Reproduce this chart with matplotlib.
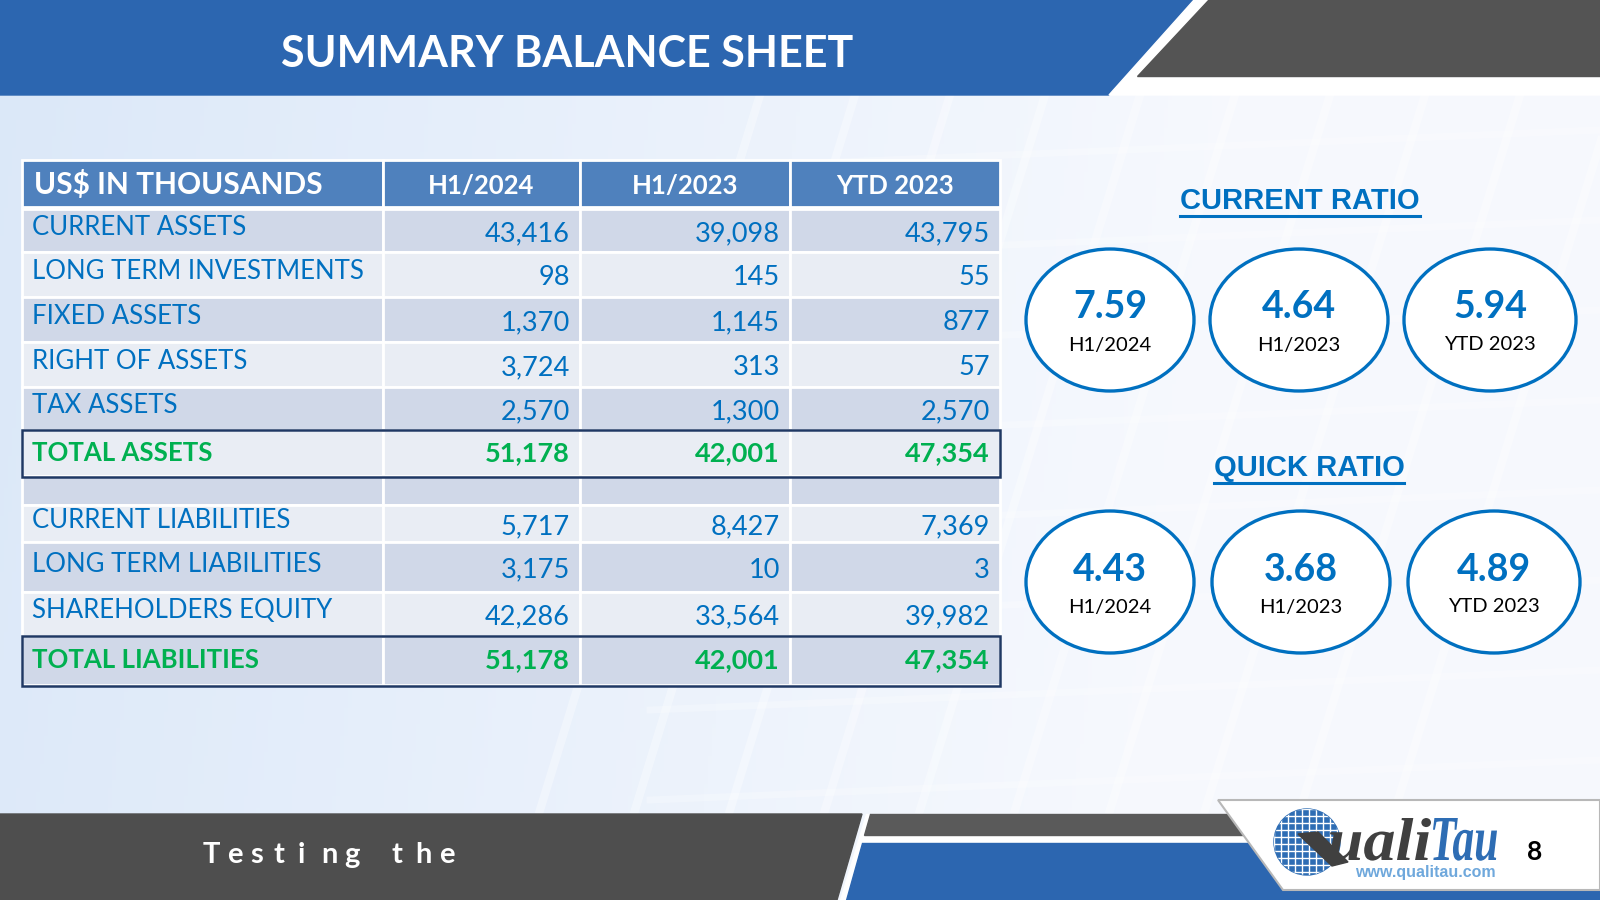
import matplotlib
matplotlib.use("Agg")
import matplotlib.pyplot as plt
from matplotlib.patches import Polygon, Rectangle, Ellipse, Circle, PathPatch
from matplotlib.textpath import TextPath
from matplotlib.font_manager import FontProperties
from matplotlib.transforms import Affine2D
import numpy as np

# ---- data ----
columns = ["H1/2024", "H1/2023", "YTD 2023"]
row_labels = ["CURRENT ASSETS", "LONG TERM INVESTMENTS", "FIXED ASSETS",
              "RIGHT OF ASSETS", "TAX ASSETS", "TOTAL ASSETS", "",
              "CURRENT LIABILITIES", "LONG TERM LIABILITIES",
              "SHAREHOLDERS EQUITY", "TOTAL LIABILITIES"]
h1_2024 = [43416, 98, 1370, 3724, 2570, 51178, None, 5717, 3175, 42286, 51178]
h1_2023 = [39098, 145, 1145, 313, 1300, 42001, None, 8427, 10, 33564, 42001]
ytd_2023 = [43795, 55, 877, 57, 2570, 47354, None, 7369, 3, 39982, 47354]
total_rows = ["TOTAL ASSETS", "TOTAL LIABILITIES"]

ratio_periods = ["H1/2024", "H1/2023", "YTD 2023"]
current_ratio = [7.59, 4.64, 5.94]
quick_ratio = [4.43, 3.68, 4.89]

# ---- styles ----
BLUE = "#2c66b0"
TXT_BLUE = "#0070c0"
GREEN = "#00b050"
HEAD = "#4f81bd"
ROW_A = "#d0d8e8"
ROW_B = "#e9edf4"
NAVY = "#1f3864"
FONT = "Lato"

fig = plt.figure(figsize=(16, 9), dpi=100)
ax = fig.add_axes([0, 0, 1, 1])
ax.set_xlim(0, 1600)
ax.set_ylim(900, 0)
ax.axis("off")

# background gradient
gx = np.linspace(0, 1, 400)
gy = np.linspace(0, 1, 225)
X, Y = np.meshgrid(gx, gy)
left = np.array([0.86, 0.91, 0.975])
right = np.array([0.965, 0.975, 0.995])
t = np.clip(X * 1.3 + 0.1 * Y, 0, 1)[..., None]
bg = left * (1 - t) + right * t
ax.imshow(bg, extent=[0, 1600, 900, 0], aspect="auto", zorder=0)

# faint globe grid lines in background
for x0 in range(760, 1650, 95):
    ax.plot([x0, x0 - 220], [95, 810], color="white", lw=6, alpha=0.35, zorder=0.5)
for y0 in range(150, 800, 90):
    ax.plot([650, 1600], [y0 + 20, y0 - 20], color="white", lw=5, alpha=0.25, zorder=0.5)

# header
ax.add_patch(Polygon([(0, 0), (1194, 0), (1109, 95), (0, 95)], color=BLUE, zorder=2))
ax.add_patch(Polygon([(1194, 0), (1208, 0), (1137, 78), (1600, 78), (1600, 95), (1109, 95)],
                     color="white", zorder=2))
ax.add_patch(Polygon([(1208, 0), (1600, 0), (1600, 76), (1137, 76)], color="#545454", zorder=3))
ax.text(567, 54, "SUMMARY BALANCE SHEET", color="white", fontsize=31, fontweight="bold",
        family=FONT, ha="center", va="center", zorder=4)

# footer
ax.add_patch(Polygon([(866, 814), (1600, 814), (1600, 900), (840, 900)], color="white", zorder=2))
ax.add_patch(Polygon([(0, 814), (862, 814), (837, 900), (0, 900)], color="#4e4e4e", zorder=3))
ax.add_patch(Polygon([(870, 814), (1250, 814), (1250, 835), (864, 835)], color="#5a5a5a", zorder=3))
ax.add_patch(Polygon([(862, 843), (1600, 843), (1600, 900), (846, 900)], color=BLUE, zorder=3))
ax.add_patch(Polygon([(1218, 800), (1600, 800), (1600, 890), (1283, 890)], facecolor="white",
                     edgecolor="#b8b8b8", lw=1.5, zorder=4))
for i, ch in enumerate("Testing the"):
    ax.text(203 + i * 23.6, 855, ch, color="white", fontsize=21, fontweight="bold",
            family=FONT, ha="left", va="center", zorder=5)

# logo
globe = Circle((1307, 842), 33, color="#2e6db4", zorder=5)
ax.add_patch(globe)
for k in range(-33, 34, 7):
    l1, = ax.plot([1307 + k, 1307 + k], [805, 885], color="white", lw=1, zorder=6)
    l2, = ax.plot([1270, 1345], [842 + k, 842 + k], color="white", lw=1, zorder=6)
    l1.set_clip_path(globe)
    l2.set_clip_path(globe)
ax.add_patch(Polygon([(1298, 834), (1318, 832), (1348, 862), (1332, 866)], color="#404040", zorder=7))

logo_font = FontProperties(family="Liberation Serif", weight="bold", style="italic")


def fitted_word(word, x0, x1, ytop, ybase, color):
    p = TextPath((0, 0), word, size=100, prop=logo_font)
    ext = p.get_extents()
    sx = (x1 - x0) / ext.width
    sy = (ybase - ytop) / ext.y1
    tr = Affine2D().translate(-ext.x0, 0).scale(sx, -sy).translate(x0, ybase)
    ax.add_patch(PathPatch(tr.transform_path(p), facecolor=color, edgecolor="none", zorder=7))


fitted_word("uali", 1330, 1431, 818, 860, "#404040")
fitted_word("Tau", 1433, 1497, 818, 860, "#2e6db4")
ax.text(1425, 872, "www.qualitau.com", color="#6fa8dc", fontsize=11.5, fontweight="bold",
        family="Liberation Sans", ha="center", va="center", zorder=8)
ax.text(1535, 852, "8", color="black", fontsize=19, fontweight="bold", family=FONT,
        ha="center", va="center", zorder=7)

# table
col_x = [22, 383, 580, 790, 1000]
head_y = (160, 207)
row_y = [209, 252, 297, 342, 387, 430, 476, 505, 542, 592, 636, 685]

for j in range(4):
    ax.add_patch(Rectangle((col_x[j], head_y[0]), col_x[j + 1] - col_x[j], head_y[1] - head_y[0],
                           facecolor=HEAD, edgecolor="white", lw=2, zorder=3))
ax.text(34, 184, "US$ IN THOUSANDS", color="white", fontsize=21.5, fontweight="bold",
        family=FONT, ha="left", va="center", zorder=4)
for j, c in enumerate(columns):
    ax.text((col_x[j + 1] + col_x[j + 2]) / 2, 186, c, color="white", fontsize=18.5,
            fontweight="bold", family=FONT, ha="center", va="center", zorder=4)

values = list(zip(h1_2024, h1_2023, ytd_2023))
for i, lab in enumerate(row_labels):
    y0, y1 = row_y[i], row_y[i + 1]
    fc = ROW_A if i % 2 == 0 else ROW_B
    for j in range(4):
        ax.add_patch(Rectangle((col_x[j], y0), col_x[j + 1] - col_x[j], y1 - y0,
                               facecolor=fc, edgecolor="white", lw=2, zorder=3))
    is_total = lab in total_rows
    color = GREEN if is_total else TXT_BLUE
    weight = "bold" if is_total else "normal"
    yc = (y0 + y1) / 2
    ax.text(32, yc - (0 if is_total else 3), lab, color=color, fontsize=18.5, fontweight=weight,
            family=FONT, ha="left", va="center", zorder=4)
    for j, v in enumerate(values[i]):
        if v is None:
            continue
        ax.text(col_x[j + 2] - 10, yc + (0 if is_total else 3), f"{v:,}", color=color,
                fontsize=19.5, fontweight=weight, family=FONT, ha="right", va="center", zorder=4)
    if is_total:
        ax.add_patch(Rectangle((col_x[0], y0), col_x[-1] - col_x[0], y1 - y0 + 1,
                               facecolor="none", edgecolor=NAVY, lw=1.8, zorder=5))


# ratio panels
def ratio_block(title, title_xy, underline_y, vals, centers, cy, num_y, lab_y):
    th = ax.text(title_xy[0], title_xy[1], title, color=TXT_BLUE, fontsize=21, fontweight="bold",
                 family="Liberation Sans", ha="center", va="center", zorder=4)
    fig.canvas.draw()
    b = th.get_window_extent(fig.canvas.get_renderer()).transformed(ax.transData.inverted())
    ax.plot([b.x0, b.x1], [underline_y, underline_y], color=TXT_BLUE, lw=2.2, zorder=4)
    widths = [168, 178, 172]
    for k, v in enumerate(vals):
        ax.add_patch(Ellipse((centers[k], cy), widths[k], 142, facecolor="white",
                             edgecolor=TXT_BLUE, lw=2.4, zorder=4))
        ax.text(centers[k], num_y, f"{v:.2f}", color=TXT_BLUE, fontsize=27, fontweight="bold",
                family=FONT, ha="center", va="center", zorder=5)
        ax.text(centers[k], lab_y, ratio_periods[k], color="black", fontsize=14.5,
                family=FONT, ha="center", va="center", zorder=5)


ratio_block("CURRENT RATIO", (1300, 201), 216, current_ratio, [1110, 1299, 1490], 320, 307, 345)
ratio_block("QUICK RATIO", (1309, 468), 483, quick_ratio, [1110, 1301, 1494], 582, 570, 607)

fig.savefig("out.png", dpi=100)
